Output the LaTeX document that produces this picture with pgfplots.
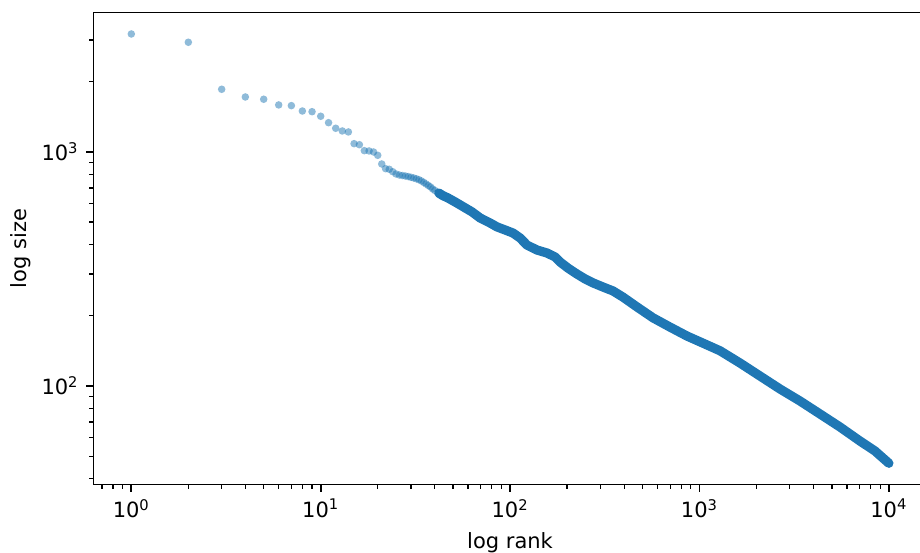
\documentclass[border=0pt]{standalone}
\usepackage{fontspec}
\setmainfont{DejaVu Sans}
\usepackage{pgfplots}
\pgfplotsset{compat=1.18}
\usetikzlibrary{calc}
\definecolor{tabblue}{HTML}{1F77B4}

% sparse head of the ranking (one marker per rank)
\pgfplotstableread{
r v
1 3184
2 2935
3 1848
4 1713
5 1675
6 1584
7 1573
8 1492
9 1482
10 1417
11 1330
12 1259
13 1226
14 1214
15 1082
16 1071
17 1010
18 1007
19 997
20 965
21 886
22 846
23 841
24 821
25 803
26 795
27 791
28 787
29 783
30 777
31 772
32 766
33 759
34 750
35 739
36 728
37 717
38 707
39 693
40 683
42 666
44 650
46 637
48 625
50 613
}\headdata

% dense tail, read along the band
\pgfplotstableread{
r v
42 666
44 650
47 634
51.2 610
55.7 586
62.9 553
69.4 521
78.3 496
85.3 477
94.0 463
103.6 449
112.8 428
122.8 399
138.7 380
156.6 369
172.7 355
183.4 338
202.2 318
225.5 300
248.6 286
274.0 275
309.5 264
349.4 254
394.7 239
467.8 217
568.2 195
698.7 178
859.0 163
1006 154
1283 141
1636 125
2086 110
2661 96.8
3394 86.0
4328 75.7
5519 66.6
7038 58.0
8443 52.6
10000 46.6
}\taildata

\begin{document}
\begin{tikzpicture}
\begin{axis}[
  name=ax,
  xmode=log, ymode=log,
  scale only axis,
  width=396.8pt, height=224.67pt,
  xmin=0.6307, xmax=15834,
  ymin=37.86, ymax=3930,
  axis line style={line width=0.8pt},
  tick align=outside,
  major tick length=3.5pt,
  minor tick length=2pt,
  every tick/.style={black, line width=0.8pt},
  minor tick style={line width=0.6pt},
  xtick={1,10,100,1000,10000},
  xticklabels={10\textsuperscript{0},10\textsuperscript{1},10\textsuperscript{2},10\textsuperscript{3},10\textsuperscript{4}},
  minor xtick={0.7,0.8,0.9,2,3,4,5,6,7,8,9,20,30,40,50,60,70,80,90,200,300,400,500,600,700,800,900,2000,3000,4000,5000,6000,7000,8000,9000},
  ytick={100,1000},
  yticklabels={10\textsuperscript{2},10\textsuperscript{3}},
  minor ytick={40,50,60,70,80,90,200,300,400,500,600,700,800,900,2000,3000},
  xtick pos=bottom, ytick pos=left,
  xlabel={log rank},
  ylabel={log size},
  ylabel shift=-2pt,
  clip=false,
]
\addplot[tabblue, line width=4.4pt, line cap=round, line join=round] table[x=r, y=v] {\taildata};
\addplot[only marks, mark=*, mark size=1.8pt, color=tabblue,
  mark options={fill=tabblue, fill opacity=0.5, draw opacity=0}] table[x=r, y=v] {\headdata};
\end{axis}
\pgfresetboundingbox
\path[use as bounding box] ($(ax.south west)+(-44.48pt,-32.19pt)$) rectangle +(438.10pt,262.86pt);
\end{tikzpicture}
\end{document}
